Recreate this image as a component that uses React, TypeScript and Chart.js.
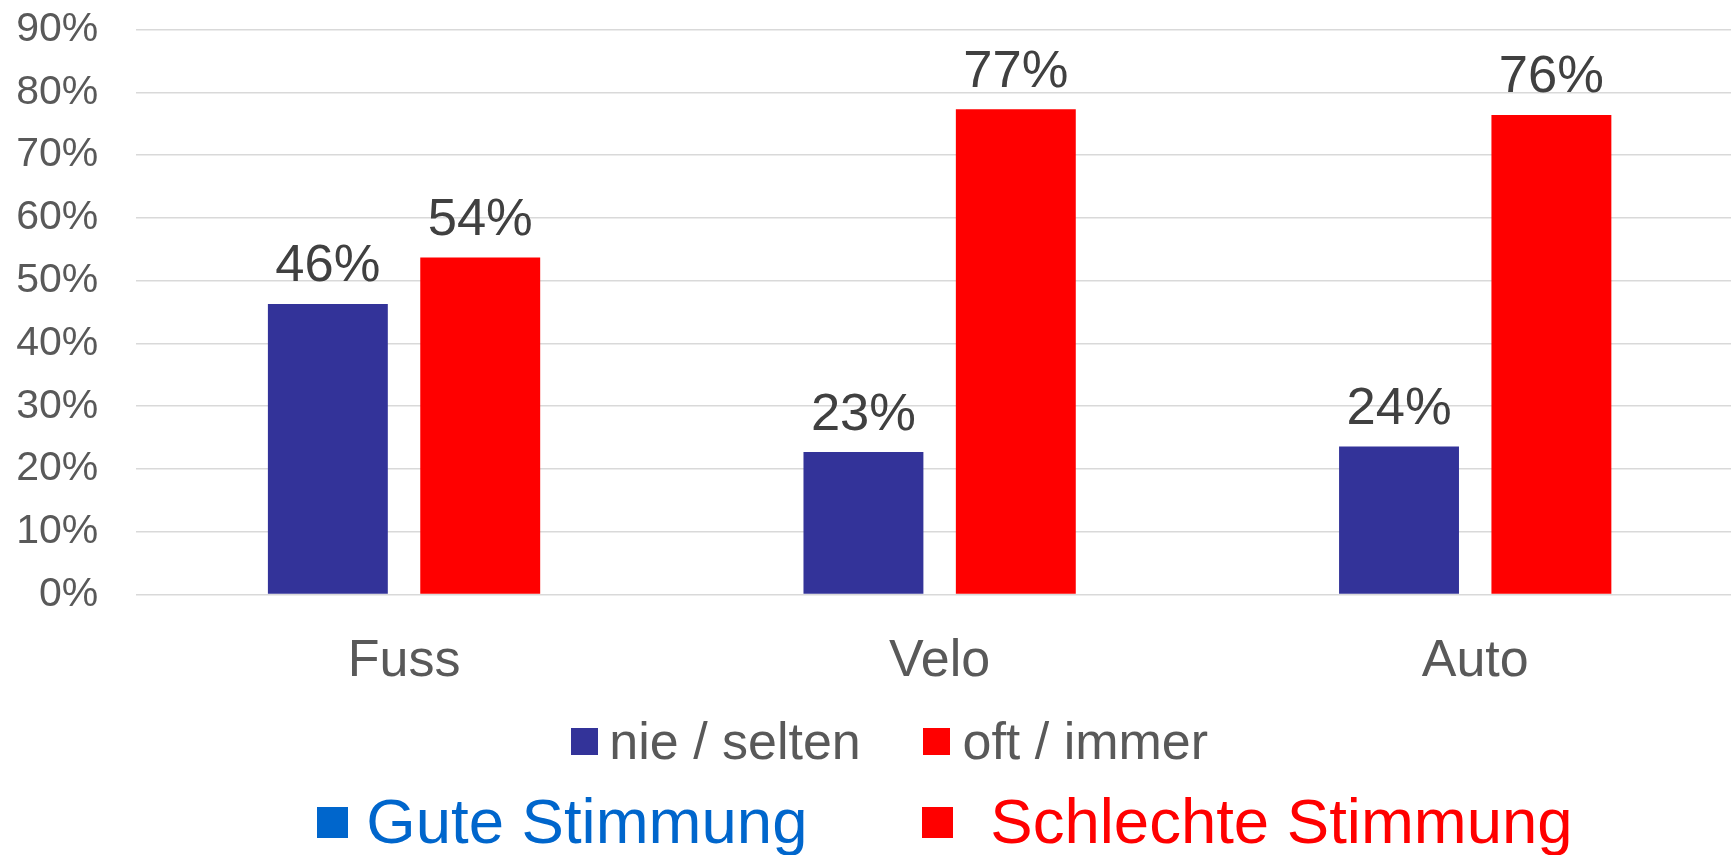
import React, { useEffect, useRef } from "react";
import { Chart, registerables } from "chart.js";

Chart.register(...registerables);

const categories = ["Fuss", "Velo", "Auto"];
const seriesNames = ["nie / selten", "oft / immer"];
const seriesColors = ["#333399", "#FF0000"];
const nieSelten = [46.3, 22.7, 23.6];
const oftImmer = [53.7, 77.3, 76.4];
const yTicks = [0, 10, 20, 30, 40, 50, 60, 70, 80, 90];
const moodLabels = ["Gute Stimmung", "Schlechte Stimmung"];
const moodColors = ["#0066CC", "#FF0000"];

const FONT = "'Liberation Sans', Arial, Helvetica, sans-serif";

const dataLabelPlugin = {
  id: "dataLabels",
  afterDatasetsDraw(chart: any) {
    const ctx = chart.ctx;
    ctx.save();
    ctx.font = `52.5px ${FONT}`;
    ctx.fillStyle = "#404040";
    ctx.textAlign = "center";
    ctx.textBaseline = "alphabetic";
    chart.data.datasets.forEach((ds: any, i: number) => {
      const meta = chart.getDatasetMeta(i);
      meta.data.forEach((bar: any, j: number) => {
        const v = ds.data[j];
        ctx.fillText(`${Math.round(v)}%`, bar.x, bar.y - 22.5);
      });
    });
    ctx.restore();
  },
};

export default function App() {
  const ref = useRef<HTMLCanvasElement>(null);

  useEffect(() => {
    if (!ref.current) return;
    const chart = new Chart(ref.current, {
      type: "bar",
      data: {
        labels: categories,
        datasets: [
          {
            label: seriesNames[0],
            data: nieSelten,
            backgroundColor: seriesColors[0],
            categoryPercentage: 0.569,
            barPercentage: 0.787,
          },
          {
            label: seriesNames[1],
            data: oftImmer,
            backgroundColor: seriesColors[1],
            categoryPercentage: 0.569,
            barPercentage: 0.787,
          },
        ],
      },
      options: {
        responsive: false,
        animation: false,
        devicePixelRatio: 1,
        layout: { padding: { top: 29.5, left: 0, right: 0, bottom: 126 } },
        plugins: {
          legend: { display: false },
          tooltip: { enabled: false },
        },
        scales: {
          x: {
            grid: { display: false, drawTicks: false },
            border: { display: false },
            ticks: {
              padding: 36,
              color: "#595959",
              font: { family: FONT, size: 52 },
              maxRotation: 0,
            },
          },
          y: {
            min: 0,
            max: 90,
            afterFit(scale: any) {
              scale.width = 136.25;
              scale.paddingTop = 0;
              scale.paddingBottom = 0;
            },
            afterBuildTicks(scale: any) {
              scale.ticks = yTicks.map((v) => ({ value: v }));
            },
            grid: { color: "#D9D9D9", lineWidth: 1.5, drawTicks: false },
            border: { display: false },
            ticks: {
              padding: 38,
              color: "#595959",
              font: { family: FONT, size: 41 },
              callback: (v: any) => `${v}%`,
            },
          },
        },
      },
      plugins: [dataLabelPlugin],
    });
    return () => chart.destroy();
  }, []);

  const textBase: React.CSSProperties = {
    position: "absolute",
    whiteSpace: "nowrap",
    fontFamily: FONT,
  };

  return (
    <div
      style={{
        position: "fixed",
        left: 0,
        top: 0,
        width: 1731,
        height: 855,
        overflow: "hidden",
        background: "#fff",
      }}
    >
      <canvas
        ref={ref}
        width={1743}
        height={855}
        style={{ position: "absolute", left: 0, top: 0, width: 1743, height: 855 }}
      />
      {/* legend row 1: series */}
      <div style={{ position: "absolute", left: 571, top: 728.3, width: 27, height: 27, background: seriesColors[0] }} />
      <div style={{ ...textBase, left: 609.3, top: 715, fontSize: 52, lineHeight: "52px", color: "#595959" }}>
        {seriesNames[0]}
      </div>
      <div style={{ position: "absolute", left: 923, top: 728.3, width: 27, height: 27, background: seriesColors[1] }} />
      <div style={{ ...textBase, left: 962.5, top: 715, fontSize: 52, lineHeight: "52px", color: "#595959" }}>
        {seriesNames[1]}
      </div>
      {/* legend row 2: mood */}
      <div style={{ position: "absolute", left: 317.3, top: 806.7, width: 31, height: 31, background: moodColors[0] }} />
      <div style={{ ...textBase, left: 366.3, top: 790.2, fontSize: 63.5, lineHeight: "63.5px", color: moodColors[0] }}>
        {moodLabels[0]}
      </div>
      <div style={{ position: "absolute", left: 922, top: 806.7, width: 31, height: 31, background: moodColors[1] }} />
      <div style={{ ...textBase, left: 990.3, top: 790.2, fontSize: 63.5, lineHeight: "63.5px", color: moodColors[1] }}>
        {moodLabels[1]}
      </div>
    </div>
  );
}
